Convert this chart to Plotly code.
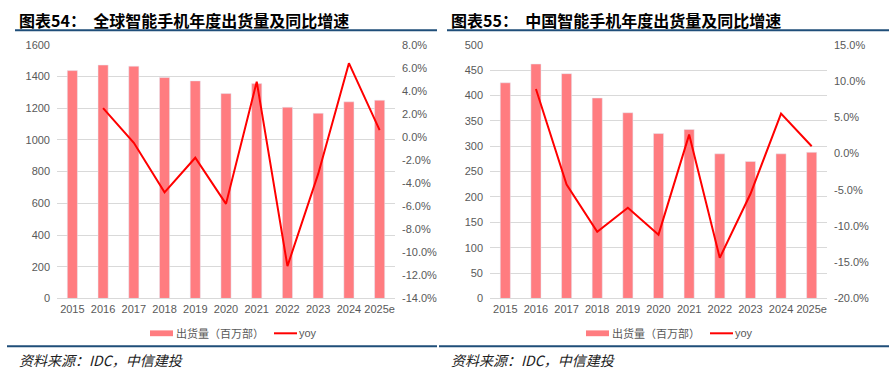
import plotly.graph_objects as go

years = ["2015", "2016", "2017", "2018", "2019", "2020", "2021", "2022", "2023", "2024", "2025e"]

global_shipments = [1437, 1472, 1465, 1393, 1372, 1292, 1355, 1206, 1168, 1240, 1250]
global_yoy = [None, 2.5, -0.5, -4.8, -1.8, -5.8, 4.8, -11.2, -3.2, 6.4, 0.6]

china_shipments = [425, 462, 443, 395, 366, 325, 333, 285, 270, 285, 288]
china_yoy = [None, 8.9, -4.3, -10.8, -7.5, -11.2, 2.6, -14.4, -5.6, 5.5, 1.0]

left_y_ticks = [0, 200, 400, 600, 800, 1000, 1200, 1400, 1600]
left_y2_ticks = [8, 6, 4, 2, 0, -2, -4, -6, -8, -10, -12, -14]
right_y_ticks = [0, 50, 100, 150, 200, 250, 300, 350, 400, 450, 500]
right_y2_ticks = [15, 10, 5, 0, -5, -10, -15, -20]

title_left = "图表54：  全球智能手机年度出货量及同比增速"
title_right = "图表55：  中国智能手机年度出货量及同比增速"
source_text = "资料来源：IDC，中信建投"
bar_name = "出货量（百万部）"
line_name = "yoy"

BAR = "#FF7C80"
LINE = "#FF0000"
GRID = "#D9D9D9"
TICK = "#595959"
NAVY = "#1F4E79"
W, H = 895, 379

fig = go.Figure()
fig.add_trace(go.Bar(x=years, y=global_shipments, marker_color=BAR, width=0.33,
                     xaxis="x", yaxis="y", name=bar_name, showlegend=False))
fig.add_trace(go.Scatter(x=years, y=global_yoy, mode="lines", line=dict(color=LINE, width=2),
                         xaxis="x", yaxis="y2", name=line_name, showlegend=False))
fig.add_trace(go.Bar(x=years, y=china_shipments, marker_color=BAR, width=0.33,
                     xaxis="x2", yaxis="y3", name=bar_name, showlegend=False))
fig.add_trace(go.Scatter(x=years, y=china_yoy, mode="lines", line=dict(color=LINE, width=2),
                         xaxis="x2", yaxis="y4", name=line_name, showlegend=False))

tickfont = dict(family="Liberation Sans, Arial, sans-serif", size=11, color=TICK)
ydom = [1 - 302 / H, 1 - 40 / H]
xd1 = [57 / W, 395 / W]
xd2 = [490 / W, 827 / W]

def xax(domain, anchor):
    return dict(domain=domain, anchor=anchor, type="category", range=[-0.5, 10.5],
                showgrid=False, showline=True, linecolor=GRID, linewidth=1,
                ticks="", tickfont=tickfont, fixedrange=True)

def yax_left(domain, anchor, ticks, rng):
    return dict(domain=domain, anchor=anchor, range=rng, tickvals=ticks,
                ticktext=[str(t) for t in ticks], showgrid=True, gridcolor=GRID,
                gridwidth=1, zeroline=False, showline=False, ticks="",
                tickfont=tickfont, ticklabelstandoff=6)

def yax_right(anchor, overlay, ticks, rng):
    return dict(anchor=anchor, overlaying=overlay, side="right", range=rng,
                tickvals=ticks, ticktext=["%.1f%%" % t for t in ticks],
                showgrid=False, zeroline=False, showline=False, ticks="",
                tickfont=tickfont, ticklabelstandoff=6)

fig.update_layout(
    width=W, height=H,
    margin=dict(l=0, r=0, t=0, b=0),
    paper_bgcolor="white", plot_bgcolor="white",
    bargap=0.67,
    xaxis=xax(xd1, "y"),
    yaxis=yax_left(ydom, "x", left_y_ticks, [0, 1600]),
    yaxis2=yax_right("x", "y", left_y2_ticks, [-14, 8]),
    xaxis2=xax(xd2, "y3"),
    yaxis3=yax_left(ydom, "x2", right_y_ticks, [0, 500]),
    yaxis4=yax_right("x2", "y3", right_y2_ticks, [-20, 15]),
)

cjk = "Noto Sans CJK SC, sans-serif"
shapes = []
annotations = []

for x0, x1, title, leg_x in [(15, 437, title_left, 150), (447, 889, title_right, 586)]:
    annotations.append(dict(x=(x0 + 2) / W, y=1 - 14 / H, xref="paper", yref="paper",
                            text="<b>" + title + "</b>", showarrow=False, xanchor="left", yanchor="middle",
                            font=dict(family=cjk, size=16, color="#000000")))
    shapes.append(dict(type="line", xref="paper", yref="paper", x0=x0 / W, x1=x1 / W,
                       y0=1 - 25 / H, y1=1 - 25 / H, line=dict(color=NAVY, width=2)))
    shapes.append(dict(type="line", xref="paper", yref="paper", x0=(x0 - 8) / W, x1=x1 / W,
                       y0=1 - 351.5 / H, y1=1 - 351.5 / H, line=dict(color=NAVY, width=2)))
    annotations.append(dict(x=(x0 + 2) / W, y=1 - 366 / H, xref="paper", yref="paper",
                            text=source_text, showarrow=False, xanchor="left", yanchor="middle",
                            font=dict(family=cjk, size=14, color="#222222", style="italic")))
    shapes.append(dict(type="rect", xref="paper", yref="paper", x0=leg_x / W, x1=(leg_x + 23) / W,
                       y0=1 - 341 / H, y1=1 - 335 / H, fillcolor=BAR, line=dict(width=0)))
    annotations.append(dict(x=(leg_x + 24) / W, y=1 - 338 / H, xref="paper", yref="paper",
                            text=bar_name, showarrow=False, xanchor="left", yanchor="middle",
                            font=dict(family=cjk, size=11, color=TICK)))
    shapes.append(dict(type="line", xref="paper", yref="paper", x0=(leg_x + 124) / W, x1=(leg_x + 147) / W,
                       y0=1 - 338 / H, y1=1 - 338 / H, line=dict(color=LINE, width=2)))
    annotations.append(dict(x=(leg_x + 147) / W, y=1 - 338 / H, xref="paper", yref="paper",
                            text=line_name, showarrow=False, xanchor="left", yanchor="middle",
                            font=dict(family="Liberation Sans, Arial, sans-serif", size=11, color=TICK)))

fig.update_layout(shapes=shapes, annotations=annotations)
fig.write_html("out.html", config={"displayModeBar": False},
               post_script="document.body.style.margin='0';document.body.style.overflow='hidden';")
